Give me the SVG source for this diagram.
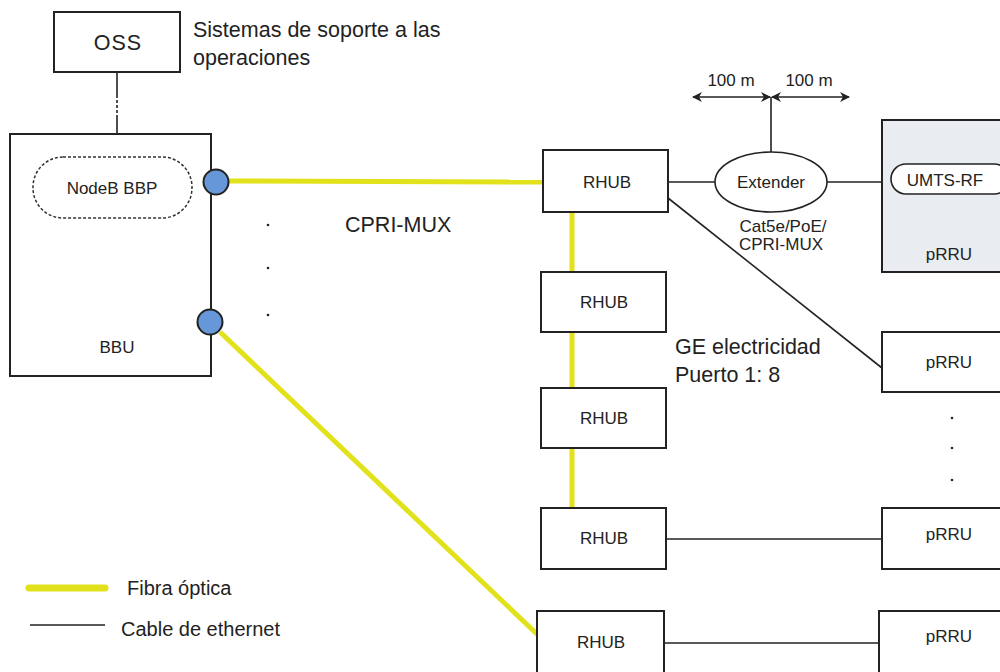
<svg xmlns="http://www.w3.org/2000/svg" width="1000" height="672" viewBox="0 0 1000 672">
<style>
text{font-family:"Liberation Sans",Arial,sans-serif;fill:#222}
.box{fill:#fff;stroke:#222;stroke-width:2}
.s{font-size:17px}
.m{font-size:21.5px}
.l{font-size:20px}
.fib{stroke:#e2e21c;stroke-width:5;fill:none}
.eth{stroke:#222;stroke-width:1.6;fill:none}
</style>
<defs>
<marker id="ah" viewBox="0 0 10 10" refX="9" refY="5" markerWidth="10" markerHeight="10" markerUnits="userSpaceOnUse" orient="auto-start-reverse">
<path d="M0,0 L10,5 L0,10 L3,5 z" fill="#222"/>
</marker>
</defs>
<rect width="1000" height="672" fill="#fff"/>
<g id="connectors">
<line class="eth" x1="117" y1="72" x2="117" y2="95"/>
<line class="eth" x1="117" y1="95" x2="117" y2="118" stroke-dasharray="3,2"/>
<line class="eth" x1="117" y1="118" x2="117" y2="134"/>
<line class="fib" x1="229" y1="181" x2="543" y2="182"/>
<line class="fib" x1="220" y1="332" x2="539" y2="636"/>
<line class="fib" x1="572" y1="212" x2="572" y2="508"/>
<line class="eth" x1="668" y1="182" x2="715" y2="182"/>
<line class="eth" x1="827" y1="182" x2="882" y2="182"/>
<line class="eth" x1="771" y1="152" x2="771" y2="97"/>
<line class="eth" x1="693" y1="97" x2="770" y2="97" marker-start="url(#ah)" marker-end="url(#ah)"/>
<line class="eth" x1="772" y1="97" x2="849" y2="97" marker-start="url(#ah)" marker-end="url(#ah)"/>
<line class="eth" x1="668" y1="198" x2="882" y2="368"/>
<line class="eth" x1="666" y1="539" x2="882" y2="539"/>
<line class="eth" x1="664" y1="643" x2="879" y2="643"/>
</g>
<g id="oss">
<rect class="box" x="54" y="12" width="126" height="60"/>
<text class="m" x="118" y="50" text-anchor="middle" letter-spacing="1">OSS</text>
</g>
<g id="oss-label">
<text class="m" x="193" y="37">Sistemas de soporte a las</text>
<text class="m" x="193" y="65">operaciones</text>
</g>
<g id="bbu">
<rect class="box" x="10" y="134" width="201" height="242"/>
<rect x="33" y="157" width="159" height="61" rx="30" fill="none" stroke="#333" stroke-width="1.5" stroke-dasharray="3,2"/>
<text class="s" x="112" y="194" text-anchor="middle">NodeB BBP</text>
<text class="s" x="117" y="353" text-anchor="middle">BBU</text>
<circle cx="216" cy="182" r="12.5" fill="#6697d8" stroke="#222" stroke-width="2"/>
<circle cx="210" cy="322" r="12.5" fill="#6697d8" stroke="#222" stroke-width="2"/>
</g>
<g id="dots-left">
<circle cx="268" cy="225" r="1.3" fill="#222"/>
<circle cx="268" cy="268" r="1.3" fill="#222"/>
<circle cx="268" cy="315" r="1.3" fill="#222"/>
</g>
<g id="cpri-label">
<text class="m" x="345" y="232">CPRI-MUX</text>
</g>
<g id="rhub1">
<rect class="box" x="543" y="150" width="125" height="62"/>
<text class="s" x="607" y="188" text-anchor="middle">RHUB</text>
</g>
<g id="rhub2">
<rect class="box" x="541" y="272" width="125" height="60"/>
<text class="s" x="604" y="308" text-anchor="middle">RHUB</text>
</g>
<g id="rhub3">
<rect class="box" x="541" y="388" width="125" height="60"/>
<text class="s" x="604" y="424" text-anchor="middle">RHUB</text>
</g>
<g id="rhub4">
<rect class="box" x="541" y="508" width="125" height="61"/>
<text class="s" x="604" y="544" text-anchor="middle">RHUB</text>
</g>
<g id="rhub5">
<rect class="box" x="537" y="611" width="127" height="70"/>
<text class="s" x="601" y="648" text-anchor="middle">RHUB</text>
</g>
<g id="extender">
<ellipse cx="771" cy="182" rx="56" ry="30" fill="#fff" stroke="#222" stroke-width="1.6"/>
<text class="s" x="771" y="188" text-anchor="middle">Extender</text>
<text class="s" x="783" y="232" text-anchor="middle">Cat5e/PoE/</text>
<text class="s" x="781" y="250" text-anchor="middle">CPRI-MUX</text>
<text class="s" x="731" y="86" text-anchor="middle">100 m</text>
<text class="s" x="809" y="86" text-anchor="middle">100 m</text>
</g>
<g id="prru1">
<rect x="882" y="120" width="130" height="152" fill="#e9edf2" stroke="#222" stroke-width="2"/>
<rect x="891" y="164" width="118" height="30" rx="15" fill="#fff" stroke="#222" stroke-width="1.6"/>
<text class="s" x="945" y="186" text-anchor="middle">UMTS-RF</text>
<text class="s" x="949" y="260" text-anchor="middle">pRRU</text>
</g>
<g id="ge-label">
<text class="m" x="675" y="354">GE electricidad</text>
<text class="m" x="675" y="382">Puerto 1: 8</text>
</g>
<g id="prru2">
<rect class="box" x="882" y="332" width="130" height="60"/>
<text class="s" x="949" y="368" text-anchor="middle">pRRU</text>
</g>
<g id="dots-right">
<circle cx="952" cy="418" r="1.3" fill="#222"/>
<circle cx="952" cy="448" r="1.3" fill="#222"/>
<circle cx="952" cy="480" r="1.3" fill="#222"/>
</g>
<g id="prru3">
<rect class="box" x="882" y="508" width="130" height="61"/>
<text class="s" x="949" y="540" text-anchor="middle">pRRU</text>
</g>
<g id="prru4">
<rect class="box" x="879" y="611" width="130" height="70"/>
<text class="s" x="949" y="642" text-anchor="middle">pRRU</text>
</g>
<g id="legend">
<line x1="29" y1="588" x2="105" y2="588" stroke="#e2e21c" stroke-width="7" stroke-linecap="round"/>
<text class="l" x="127" y="595">Fibra óptica</text>
<line x1="30" y1="625" x2="105" y2="625" stroke="#222" stroke-width="1.6"/>
<text class="l" x="121" y="636">Cable de ethernet</text>
</g>
</svg>
